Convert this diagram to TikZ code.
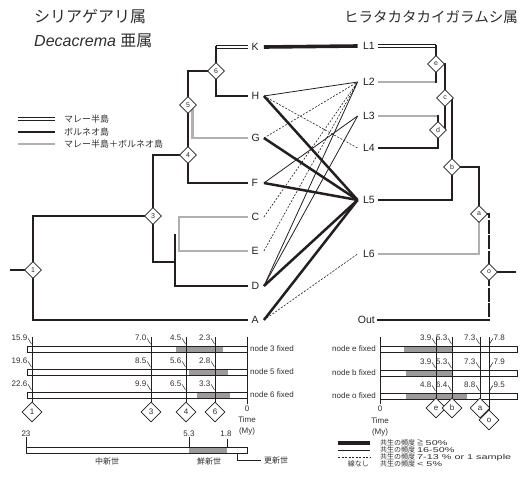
\documentclass[tikz,border=0pt]{standalone}
\usepackage{fontspec}
\setmainfont{Liberation Sans}
\newfontfamily\jpfont{Noto Sans CJK JP}
\usetikzlibrary{shapes.geometric, backgrounds}

\definecolor{inkblack}{HTML}{231F20}
\definecolor{lightgrey}{HTML}{B0B0B0}
\definecolor{bargrey}{HTML}{9B9B9B}
\definecolor{textgrey}{HTML}{2E2E2E}
\newcommand{\fsz}[1]{\fontsize{#1}{#1}\selectfont}
\newcommand{\wide}[1]{\scalebox{1.55}[1]{#1}}

\begin{document}
\begin{tikzpicture}[
    x=1pt, y=-1pt,
    every node/.style={inner sep=1pt, text=textgrey, font=\fsz{8}},
    borneo/.style={line width=2.8pt, draw=inkblack},
    both/.style={line width=2.8pt, draw=lightgrey},
    malay/.style={line width=0.75pt, draw=inkblack, double=white, double distance=2.6pt},
    gapped/.style={dash pattern=on 14pt off 1.6pt},
    strong/.style={line width=2.5pt, draw=inkblack},
    medium/.style={line width=0.8pt, draw=inkblack},
    weak/.style={line width=0.6pt, draw=inkblack, dash pattern=on 2pt off 1.5pt},
    treenode/.style={diamond, draw=inkblack, fill=white, line width=0.8pt, inner sep=0pt, minimum size=17pt, font=\fsz{7}},
    chartnode/.style={treenode, minimum size=20pt, font=\fsz{8}},
    ltip/.style={anchor=west, text width=8pt, align=left, inner xsep=4pt, font=\fsz{10.5}, text=inkblack},
    rtip/.style={anchor=east, text width=14pt, align=right, inner xsep=3pt, font=\fsz{10.5}, text=inkblack},
    timeln/.style={draw=inkblack, line width=0.7pt},
    tick/.style={draw=inkblack, line width=0.5pt},
    agetxt/.style={font=\fsz{8}, inner sep=0pt},
    legtxt/.style={anchor=west, font=\jpfont\fsz{9}},
    freqtxt/.style={anchor=west, inner sep=0pt, text height=4.6pt, text depth=0.6pt, font=\fsz{7}}
]
\useasboundingbox (0,0) rectangle (527,483);

% titles
\node[anchor=west, font=\jpfont\fsz{16}] (titleL) at (33,17) {シリアゲアリ属};
\node[anchor=west, font=\fsz{16}] (subL) at (33,41) {\textit{Decacrema} {\jpfont 亜属}};
\node[anchor=east, font=\jpfont\fsz{14.5}] (titleR) at (519,17) {ヒラタカタカイガラムシ属};

% distribution legend
\node[legtxt] (lgM) at (63,119) {マレー半島};
\node[legtxt] (lgB) at (63,132) {ボルネオ島};
\node[legtxt] (lgMB) at (63,144) {マレー半島＋ボルネオ島};
\draw[malay] ([xshift=-45pt]lgM.west) -- ([xshift=-8pt]lgM.west);
\draw[borneo] ([xshift=-45pt]lgB.west) -- ([xshift=-8pt]lgB.west);
\draw[both] ([xshift=-45pt]lgMB.west) -- ([xshift=-8pt]lgMB.west);

% ant tips
\node[ltip] (K) at (247.5,47) {K};
\node[ltip] (H) at (247.5,96) {H};
\node[ltip] (G) at (247.5,138) {G};
\node[ltip] (F) at (247.5,183) {F};
\node[ltip] (C) at (247.5,217) {C};
\node[ltip] (E) at (247.5,251) {E};
\node[ltip] (D) at (247.5,286) {D};
\node[ltip] (A) at (247.5,320) {A};

% scale insect tips
\node[rtip] (L1) at (378,46) {L1};
\node[rtip] (L2) at (378,82) {L2};
\node[rtip] (L3) at (378,116) {L3};
\node[rtip] (L4) at (378,148) {L4};
\node[rtip] (L5) at (378,200) {L5};
\node[rtip] (L6) at (378,254) {L6};
\node[rtip, text width=19pt] (Out) at (378,320) {Out};

% tree nodes
\node[treenode] (n1) at (33,270) {1};
\node[treenode] (n3) at (153,216) {3};
\node[treenode] (n4) at (188,155) {4};
\node[treenode] (n5) at (188,105) {5};
\node[treenode] (n6) at (216,71) {6};
\node[treenode] (ne) at (436,64) {e};
\node[treenode] (nc) at (445,98) {c};
\node[treenode] (nd) at (438,130) {d};
\node[treenode] (nb) at (452,167) {b};
\node[treenode] (na) at (479,214) {a};
\node[treenode] (no) at (489,272) {o};
\coordinate (rootL) at (10,270);
\coordinate (rootR) at (516,272);
\coordinate (nDCE) at (175,262);
\coordinate (nCE) at (179,234);

\begin{scope}[on background layer]
    % ant tree
    \draw[borneo] (rootL) -- (n1.center);
    \draw[borneo] (n1.center) |- (n3.center);
    \draw[borneo] (n1.center) |- (A.west);
    \draw[borneo] (n3.center) |- (n4.center);
    \draw[borneo] (n3.center) |- (nDCE);
    \draw[borneo] (nDCE |- nCE) |- (D.west);
    \draw[both] (C.west) -| (nCE) |- (E.west);
    \draw[borneo] (n4.center) |- (F.west);
    \draw[borneo] (n4.center) -- (n5.center);
    \draw[both] ([xshift=4.5pt]n5.center) |- (G.west);
    \draw[borneo] (n5.center) |- (n6.center);
    \draw[borneo] (n6.center) |- (H.west);
    \draw[malay] (n6.center |- K.west) -- (K.west);
    \draw[borneo, line cap=rect] (n6.center) -- (n6.center |- K.west);
    % scale insect tree
    \draw[malay] (L1.east) -- (L1.east -| ne);
    \draw[both] (L2.east) -- (L2.east -| ne);
    \draw[borneo, line cap=rect] (ne |- L1.east) -- (ne |- L2.east);
    \draw[borneo] (ne.center) -| (nc.center);
    \draw[both] (L3.east) -- (L3.east -| nd);
    \draw[borneo] (L4.east) -| (nd.center);
    \draw[borneo, line cap=rect] (nd.center) -- (nd.center |- L3.east);
    \draw[borneo] (nd.center) -| (nc.center);
    \draw[borneo] (nc.center) -| (nb.center);
    \draw[borneo] (L5.east) -| (nb.center);
    \draw[borneo] (nb.center) -| (na.center);
    \draw[both] (L6.east) -| (na.center);
    \draw[borneo, gapped] (na.center) -| (no.center);
    \draw[borneo, gapped] (no.center) -- (no.center |- Out.east);
    \draw[borneo, line cap=rect] (Out.east) -- (no.center |- Out.east);
    \draw[borneo] (no.center) -- (rootR);
\end{scope}

% associations
\draw[strong, line width=3.6pt] (K.east) -- (L1.west);
\draw[medium] (H.east) -- (L2.west);
\draw[weak] (H.east) -- (L4.west);
\draw[strong] (H.east) -- (L5.west);
\draw[weak] (G.east) -- (L2.west);
\draw[strong] (G.east) -- (L5.west);
\draw[medium] (F.east) -- (L3.west);
\draw[strong] (F.east) -- (L5.west);
\draw[weak] (C.east) -- (L2.west);
\draw[weak] (E.east) -- (L2.west);
\draw[medium] (D.east) -- (L2.west);
\draw[medium] (D.east) -- (L3.west);
\draw[strong] (D.east) -- (L5.west);
\draw[strong] (A.east) -- (L5.west);
\draw[weak] (A.east) -- (L6.west);

% divergence time charts, ant side
\fill[bargrey] (176,346) rectangle (223,352);
\fill[bargrey] (189,369) rectangle (228,375);
\fill[bargrey] (197,392) rectangle (230,398);
\draw[timeln] (27,346) rectangle (247,352);
\draw[timeln] (27,369) rectangle (247,375);
\draw[timeln] (27,392) rectangle (247,398);
\node[anchor=west] (fix3) at (249,349) {node 3 fixed};
\node[anchor=west] (fix5) at (249,372) {node 5 fixed};
\node[anchor=west] (fix6) at (249,395) {node 6 fixed};
\coordinate (topL) at (0,337);
\node[chartnode] (c1) at (32,412) {1};
\node[chartnode] (c3) at (151,412) {3};
\node[chartnode] (c4) at (186,412) {4};
\node[chartnode] (c6) at (215,412) {6};
\draw[timeln] (c1) -- (c1 |- topL);
\draw[timeln] (c3) -- (c3 |- topL);
\draw[timeln] (c4) -- (c4 |- topL);
\draw[timeln] (c6) -- (c6 |- topL);
\node[anchor=base] (zeroL) at (247,411) {0};
\node[anchor=base] (timeL) at (247,422) {Time};
\node[anchor=base] (myL) at (247,433) {(My)};
\draw[timeln] (zeroL) -- (zeroL |- topL);
\foreach \x/\yb/\v [count=\i] in {32/349/15.9, 151/349/7.0, 186/349/4.5, 215/349/2.3,
    32/372/19.6, 151/372/8.5, 186/372/5.6, 215/372/2.8,
    32/395/22.6, 151/395/9.9, 186/395/6.5, 215/395/3.3}{
    \node[agetxt, anchor=base east] (ageL\i) at (\x-4.5,\yb-8.5) {\v};
    \draw[tick] (\x-3.8,\yb-10.5) -- (\x-0.5,\yb-5);
}

% divergence time charts, scale insect side
\fill[bargrey] (404,346) rectangle (452,352);
\fill[bargrey] (406,370) rectangle (452,376);
\fill[bargrey] (406,393) rectangle (467,399);
\draw[timeln] (380,346) rectangle (517,352);
\draw[timeln] (380,370) rectangle (517,376);
\draw[timeln] (380,393) rectangle (517,399);
\node[anchor=east] (fixe) at (377,349) {node e fixed};
\node[anchor=east] (fixb) at (377,373) {node b fixed};
\node[anchor=east] (fixo) at (377,396) {node o fixed};
\coordinate (topR) at (0,337);
\node[chartnode] (ce) at (436,408) {e};
\node[chartnode] (cb) at (452,408) {b};
\node[chartnode] (ca) at (480,408) {a};
\node[chartnode] (co) at (489,420) {o};
\draw[timeln] (ce) -- (ce |- topR);
\draw[timeln] (cb) -- (cb |- topR);
\draw[timeln] (ca) -- (ca |- topR);
\draw[timeln] (co) -- (co |- topR);
\node[anchor=base] (zeroR) at (380,411) {0};
\node[anchor=base] (timeR) at (380,423) {Time};
\node[anchor=base] (myR) at (380,434) {(My)};
\draw[timeln] (zeroR) -- (zeroR |- topR);
\foreach \x/\yb/\v [count=\i] in {436/349/3.9, 452/349/5.3, 480/349/7.3,
    436/373/3.9, 452/373/5.3, 480/373/7.3,
    436/396/4.8, 452/396/6.4, 480/396/8.8}{
    \node[agetxt, anchor=base east] (ageR\i) at (\x-4.5,\yb-8.5) {\v};
    \draw[tick] (\x-3.8,\yb-10.5) -- (\x-0.5,\yb-5);
}
\foreach \yb/\v [count=\i] in {349/7.8, 373/7.9, 396/9.5}{
    \node[agetxt, anchor=base west] (ageO\i) at (493.5,\yb-8.5) {\v};
    \draw[tick] (492.8,\yb-10.5) -- (489.5,\yb-5);
}

% geological epochs
\fill[bargrey] (189,447) rectangle (227,453);
\draw[timeln] (26,447) rectangle (247,453);
\node[anchor=base] (g23) at (26,436) {23};
\node[anchor=base] (g53) at (189,436) {5.3};
\node[anchor=base] (g18) at (226,436) {1.8};
\draw[timeln] (26,447) -- (g23);
\draw[timeln] (189,447) -- (g53);
\draw[timeln] (227,447) -- (227,439);
\node[font=\jpfont\fsz{8}] (mio) at (107,461) {中新世};
\node[font=\jpfont\fsz{8}] (plio) at (209,461) {鮮新世};
\node[anchor=west, font=\jpfont\fsz{8}] (pleist) at (263,460) {更新世};
\coordinate (plEnd) at (237,453);
\draw[tick, line width=0.6pt] (plEnd) |- ([xshift=-2pt]pleist.west);

% association frequency legend
\node[freqtxt] (fq1) at (380,443) {{\jpfont 共生の頻度 ≧} \wide{50\%}};
\node[freqtxt] (fq2) at (380,450) {{\jpfont 共生の頻度} \wide{16-50\%}};
\node[freqtxt] (fq3) at (380,457) {{\jpfont 共生の頻度} \wide{7-13 \% or 1 sample}};
\node[freqtxt] (fq4) at (380,464) {{\jpfont 共生の頻度} \wide{< 5\%}};
\node[anchor=east, inner sep=0pt, text height=4.6pt, text depth=0.6pt, font=\jpfont\fsz{7}] (noline) at (369,464) {線なし};
\draw[strong, line width=3.6pt] ([xshift=-42pt]fq1.west) -- ([xshift=-10pt]fq1.west);
\draw[medium] ([xshift=-42pt]fq2.west) -- ([xshift=-10pt]fq2.west);
\draw[weak] ([xshift=-42pt]fq3.west) -- ([xshift=-10pt]fq3.west);
\end{tikzpicture}
\end{document}
